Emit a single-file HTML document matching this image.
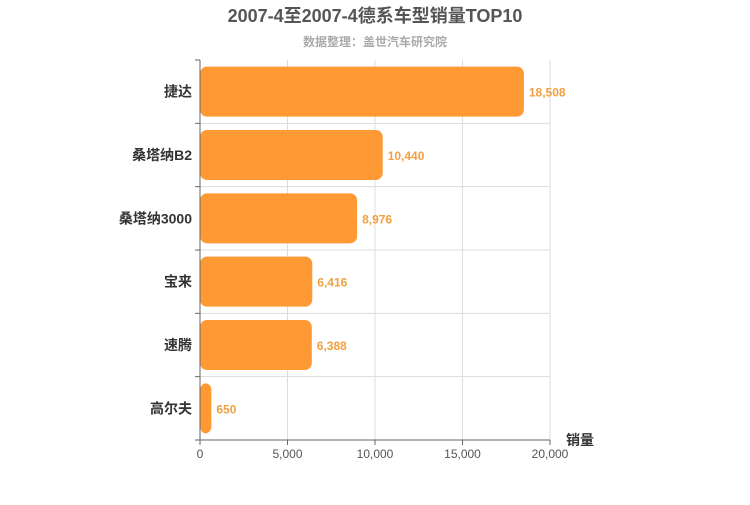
<!DOCTYPE html>
<html><head><meta charset="utf-8"><style>
body{margin:0;background:#fff;}
svg text{font-family:"Liberation Sans","Noto Sans CJK SC",sans-serif;}
</style></head><body>
<svg id="chart" width="750" height="500" xmlns="http://www.w3.org/2000/svg">
<text x="375" y="22" text-anchor="middle" font-size="18" font-weight="bold" fill="#555">2007-4至2007-4德系车型销量TOP10</text>
<text x="375" y="46" text-anchor="middle" font-size="12" font-weight="bold" fill="#aaa">数据整理：盖世汽车研究院</text>
<g id="grid"></g><g id="bars"></g><g id="axes"></g>
<text x="580" y="445" text-anchor="middle" font-size="14" font-weight="bold" fill="#333">销量</text>
</svg>
<script>
const categories=["捷达","桑塔纳B2","桑塔纳3000","宝来","速腾","高尔夫"];
const values=[18508,10440,8976,6416,6388,650];
const ticks=[0,5000,10000,15000,20000];
const tickLabels=["0","5,000","10,000","15,000","20,000"];
const NS="http://www.w3.org/2000/svg";
const x0=200,x1=550,y0=60,y1=440,xmax=20000;
const xs=v=>x0+(v/xmax)*(x1-x0);
const band=(y1-y0)/categories.length;
function mk(t,a,p){const e=document.createElementNS(NS,t);for(const k in a)e.setAttribute(k,a[k]);p.appendChild(e);return e;}
const g=document.getElementById('grid'),b=document.getElementById('bars'),ax=document.getElementById('axes');
ticks.forEach((t,i)=>{
 if(i>0){const l=mk('line',{x1:xs(t),x2:xs(t),y1:y0,y2:y1,stroke:'#ddd'},g);
 }
 const tl=mk('line',{x1:xs(t),x2:xs(t),y1:y1,y2:y1+5,stroke:'#666'},ax);
 
 const tx=mk('text',{x:xs(t),y:y1+18,'text-anchor':'middle','font-size':12,fill:'#555'},ax);tx.textContent=tickLabels[i];
 
});
for(let i=1;i<=categories.length;i++){
 const yy=y0+i*band;
 if(i<categories.length){const l=mk('line',{x1:x0,x2:x1,y1:yy,y2:yy,stroke:'#ddd'},g);
 }
}
for(let i=0;i<=categories.length;i++){
 const yy=y0+i*band;
 const t=mk('line',{x1:x0-5,x2:x0,y1:yy,y2:yy,stroke:'#666'},ax);
 
}
const al=mk('line',{x1:x0,x2:x0,y1:y0,y2:y1,stroke:'#666'},ax);

const bl=mk('line',{x1:x0,x2:x1,y1:y1,y2:y1,stroke:'#666'},ax);

categories.forEach((c,i)=>{
 const yc=y0+band*(i+0.5),h=50;
 const r=mk('rect',{x:x0,y:yc-h/2,width:xs(values[i])-x0,height:h,rx:7,fill:'#ff9933'},b);
 
 const vl=mk('text',{x:xs(values[i])+5,y:yc+5,'font-size':12,'font-weight':'bold',fill:'#f0a040'},b);
 vl.textContent=values[i].toLocaleString('en-US');
 
 const cl=mk('text',{x:x0-8,y:yc+5,'text-anchor':'end','font-size':14,'font-weight':'bold',fill:'#333'},ax);
 cl.textContent=c;
 
});
</script>
</body></html>
